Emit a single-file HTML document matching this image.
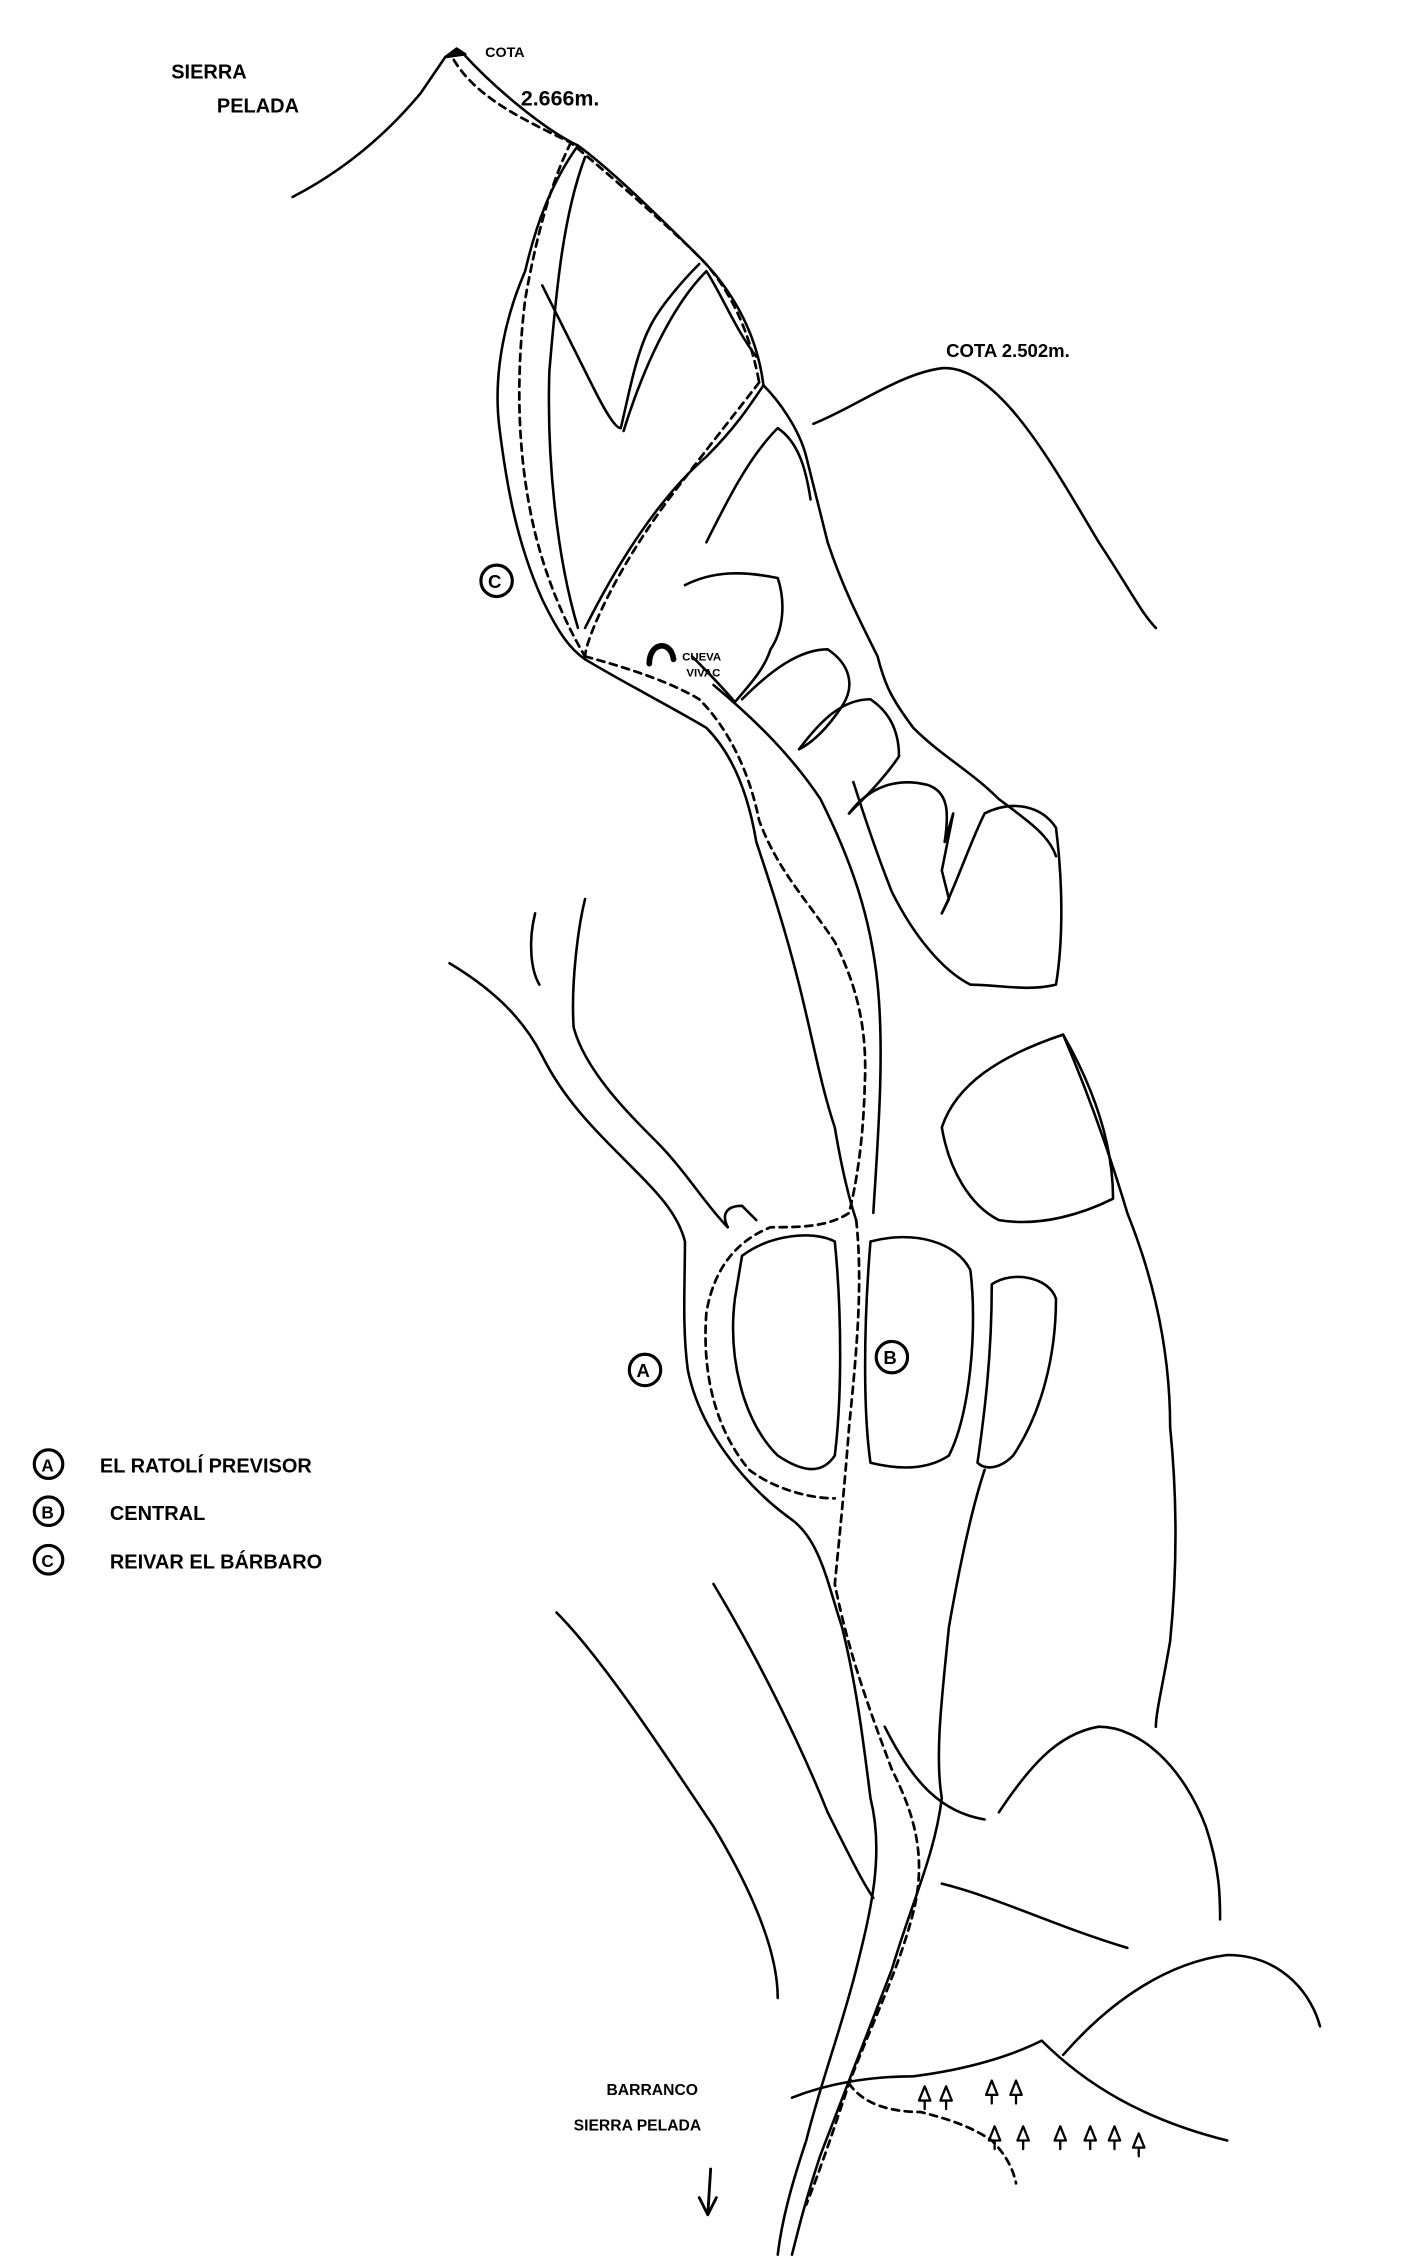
<!DOCTYPE html>
<html><head><meta charset="utf-8"><style>
html,body{margin:0;padding:0;background:#fff;}
svg{display:block}
text{font-family:"Liberation Sans",sans-serif;fill:#000;}
</style></head><body>
<svg width="1427" height="2259" viewBox="0 0 1000 1583" xmlns="http://www.w3.org/2000/svg">
<g fill="none" stroke="#000" stroke-width="1.8" stroke-linecap="round" stroke-linejoin="round">
<path d="M205,138 C240,120 270,95 295,65 L312,40 L325,38 C345,60 380,90 405,102 C430,120 470,160 490,180 C510,200 530,230 535,270"/>
<path d="M312,40 l8,-6 l6,4 z" fill="#000"/>
<path d="M570,297 C600,285 630,262 660,258 C700,255 740,330 770,380 C790,410 800,430 810,440"/>
<path d="M405,102 C385,130 375,160 368,190 C355,220 345,260 350,300 C355,340 362,380 380,420 C392,445 400,455 410,462"/>
<path d="M410,110 C395,150 390,200 385,260 C383,320 390,390 405,440"/>
<path d="M380,200 C395,230 405,250 415,270 C420,280 430,300 435,300 C440,280 445,250 455,230 C462,215 480,195 490,185"/>
<path d="M437,302 C450,260 470,215 495,190 C505,205 515,230 530,250"/>
<path d="M410,440 C430,400 460,350 495,320 C515,300 525,285 535,270"/>
<path d="M535,270 C545,280 560,300 565,320 C570,340 575,360 580,380 C590,410 600,430 615,460 C620,480 625,490 640,510 C660,530 680,540 700,560 C720,575 735,585 740,600"/>
<path d="M495,380 C510,350 525,320 545,300 C560,310 565,330 568,350"/>
<path d="M480,410 C500,400 520,400 545,405 C550,420 550,440 540,455 C535,470 525,480 515,492 C505,480 495,470 485,460"/>
<path d="M520,490 C540,470 560,455 580,455 C595,465 600,480 590,495 C580,510 570,520 560,525"/>
<path d="M560,525 C575,505 590,490 610,490 C625,500 630,515 630,530 C620,545 605,560 595,570"/>
<path d="M595,570 C610,550 630,545 650,550 C665,555 665,570 662,590 L668,570 L660,610 L665,630 L660,640"/>
<path d="M660,640 C670,620 680,590 690,570 C710,560 730,565 740,580 C745,620 745,660 740,690 C720,695 700,690 680,690"/>
<path d="M410,462 C440,480 470,495 495,510 C515,530 525,560 530,590 C540,620 550,650 560,690 C570,730 575,760 585,790 C590,820 595,840 600,855"/>
<path d="M500,480 C530,505 555,530 575,560 C595,600 610,640 615,690 C620,740 615,800 612,850"/>
<path d="M598,548 C605,570 615,600 625,625 C640,655 660,680 680,690"/>
<path d="M315,675 C340,690 365,710 380,740 C395,770 415,790 440,815 C460,835 475,850 480,870 C480,900 478,930 482,960 C490,1000 520,1040 555,1065 C575,1080 580,1110 590,1140 C600,1180 605,1220 610,1260 C620,1300 610,1340 600,1380 C590,1420 575,1460 565,1500 C555,1530 548,1555 545,1580"/>
<path d="M410,630 C405,650 400,690 402,720 C410,750 440,780 460,800 C480,820 495,845 510,860"/>
<path d="M375,640 C370,660 372,680 378,690"/>
<path d="M510,860 C505,850 510,845 520,845 L530,855"/>
<path d="M690,1030 C680,1060 672,1100 665,1140 C660,1190 655,1230 660,1260 C655,1300 640,1330 625,1380 C610,1420 590,1470 575,1510 C565,1540 560,1560 555,1580"/>
<path d="M520,880 C540,865 570,862 585,870 C590,920 590,980 585,1020 C575,1035 560,1030 545,1020 C520,995 510,950 515,910 Z"/>
<path d="M610,870 C640,862 670,870 680,890 C685,930 680,990 665,1020 C650,1030 630,1030 610,1025 C605,990 605,930 610,870 Z"/>
<path d="M695,900 C710,890 735,895 740,910 C740,950 730,990 710,1020 C700,1030 690,1030 685,1025 C690,990 695,950 695,900 Z"/>
<path d="M660,790 C670,760 700,740 745,725 C765,760 780,800 780,840 C760,850 730,860 700,855 C680,845 665,820 660,790 Z"/>
<path d="M745,725 C760,760 775,800 790,850 C810,900 820,950 820,1000 C825,1050 825,1100 820,1150 C815,1180 810,1200 810,1210"/>
<path d="M390,1130 C420,1160 460,1220 500,1280 C530,1330 545,1370 545,1400"/>
<path d="M500,1110 C530,1160 560,1220 580,1270 C595,1300 605,1320 612,1330"/>
<path d="M700,1270 C720,1240 740,1215 770,1210 C800,1210 830,1240 845,1280 C855,1310 855,1330 855,1345"/>
<path d="M660,1320 C700,1330 740,1350 790,1365"/>
<path d="M745,1440 C780,1400 820,1375 860,1370 C900,1370 920,1400 925,1420"/>
<path d="M620,1210 C640,1250 660,1270 690,1275"/>
<path d="M555,1470 C580,1460 610,1455 640,1455 C680,1450 710,1440 730,1430 C760,1460 800,1485 860,1500"/>
<g stroke-dasharray="5,4" stroke-width="1.9">
<path d="M318,42 C335,70 370,85 400,100 C430,125 470,160 490,180 C510,200 525,230 532,268"/>
<path d="M400,100 C385,130 375,170 368,210 C362,260 362,310 372,360 C380,400 395,435 410,460"/>
<path d="M532,268 C515,290 495,315 480,335 C460,360 440,390 425,420 C415,440 410,455 410,460"/>
<path d="M410,460 C440,468 470,478 490,490 C510,510 525,540 532,575 C545,610 565,630 585,660 C600,690 608,720 606,760 C605,800 600,830 595,850 C580,860 560,860 540,860 C515,870 500,890 495,920 C492,960 500,1000 525,1030 C545,1045 570,1050 585,1050"/>
<path d="M600,855 C605,900 600,950 595,1000 C592,1040 588,1080 585,1110 C595,1160 610,1200 625,1240 C640,1270 650,1300 640,1340 C630,1380 610,1420 595,1460 C585,1490 575,1520 565,1545"/>
<path d="M595,1460 C605,1475 625,1480 645,1480 C665,1485 680,1490 695,1500 C705,1510 710,1520 712,1530"/>
</g>
<path d="M455,465 C455,450 470,448 472,462" stroke-width="4"/>
<g stroke-width="1.6">
<path d="M648,1462 l-4,10 h8 z M648,1472 v6"/><path d="M663,1462 l-4,10 h8 z M663,1472 v6"/><path d="M695,1458 l-4,10 h8 z M695,1468 v6"/><path d="M712,1458 l-4,10 h8 z M712,1468 v6"/>
<path d="M697,1490 l-4,10 h8 z M697,1500 v6"/><path d="M717,1490 l-4,10 h8 z M717,1500 v6"/><path d="M743,1490 l-4,10 h8 z M743,1500 v6"/><path d="M764,1490 l-4,10 h8 z M764,1500 v6"/><path d="M781,1490 l-4,10 h8 z M781,1500 v6"/><path d="M798,1495 l-4,10 h8 z M798,1505 v6"/>
</g>
<path d="M498,1520 L496,1552 M490,1540 L496,1552 L502,1540" stroke-width="2"/>
<g stroke-width="2.2">
<circle cx="348" cy="407" r="11"/><circle cx="452" cy="960" r="11"/><circle cx="625" cy="951" r="11"/>
<circle cx="34" cy="1026" r="10"/><circle cx="34" cy="1059" r="10"/><circle cx="34" cy="1093" r="10"/>
</g>
</g>
<g font-size="14" font-weight="bold">
<text x="120" y="55">SIERRA</text><text x="152" y="79">PELADA</text>
<text x="340" y="40" font-size="10">COTA</text><text x="365" y="74" font-size="15">2.666m.</text>
<text x="663" y="250" font-size="13">COTA 2.502m.</text>
<text x="478" y="463" font-size="8">CUEVA</text><text x="481" y="474" font-size="8">VIVAC</text>
<text x="342" y="412" font-size="13">C</text><text x="446" y="965" font-size="13">A</text><text x="619" y="956" font-size="13">B</text>
<text x="29" y="1031" font-size="12">A</text><text x="29" y="1064" font-size="12">B</text><text x="29" y="1098" font-size="12">C</text>
<text x="70" y="1032">EL RATOLÍ PREVISOR</text>
<text x="77" y="1065">CENTRAL</text>
<text x="77" y="1099">REIVAR  EL BÁRBARO</text>
<text x="425" y="1468" font-size="11">BARRANCO</text><text x="402" y="1493" font-size="11">SIERRA PELADA</text>
</g>
</svg>
</body></html>
